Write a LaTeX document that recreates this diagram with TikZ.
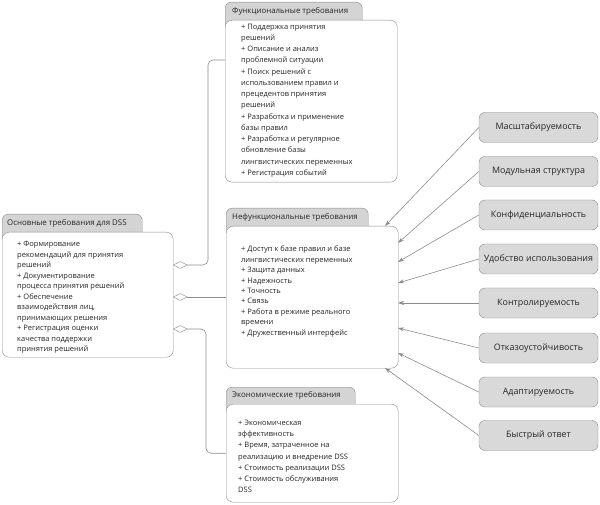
\documentclass[tikz,border=0pt]{standalone}
\usepackage{fontspec}
\setmainfont{Open Sans}
\usetikzlibrary{arrows.meta,shapes.geometric}
\definecolor{cborder}{HTML}{8C8C8C}
\definecolor{ctab}{HTML}{D4D4D4}
\definecolor{cbox}{HTML}{D9D9D9}
\definecolor{ctext}{HTML}{262626}
\begin{document}
\begin{tikzpicture}[x=1pt,y=-1pt,
  tabbox/.style={draw=cborder, fill=ctab, rounded corners=6pt, inner sep=0pt, anchor=north west, minimum height=28pt},
  bodybox/.style={draw=cborder, fill=white, rounded corners=7pt, inner sep=0pt, anchor=north west},
  tablabel/.style={anchor=west, inner sep=0pt, text=ctext, font=\fontsize{7.9}{9}\selectfont},
  bodytext/.style={anchor=west, inner sep=0pt, align=left, text=ctext},
  qbox/.style={draw=cborder, fill=cbox, rounded corners=6pt, inner sep=0pt, minimum width=119pt, minimum height=30pt, text=ctext, font=\fontsize{8.9}{10}\selectfont},
  agg/.style={diamond, draw=cborder, fill=white, inner sep=0pt, minimum width=14pt, minimum height=7pt, anchor=west},
  conn/.style={draw=cborder, line width=0.6pt},
  arr/.style={draw=cborder, line width=0.6pt, -{Stealth[length=6pt,width=4pt]}},
]
\useasboundingbox (0,0) rectangle (600,505);

% Main box
\node[tabbox, minimum width=140pt] (maintab) at (2,214) {};
\node[bodybox, minimum width=171pt, minimum height=125pt] (mainbody) at (2,232) {};
\node[tablabel] (maintabt) at (7,223) {Основные требования для DSS};
\node[bodytext, font=\fontsize{7.5}{10.5}\selectfont] (maintext) at (17,297.5) {+ Формирование\\рекомендаций для принятия\\решений\\+ Документирование\\процесса принятия решений\\+ Обеспечение\\взаимодействия лиц,\\принимающих решения\\+ Регистрация оценки\\качества поддержки\\принятия решений};

% Functional
\node[tabbox, minimum width=137pt] (functab) at (225,2) {};
\node[bodybox, minimum width=172pt, minimum height=162pt] (funcbody) at (225,20) {};
\node[tablabel] (functabt) at (232,11) {Функциональные требования};
\node[bodytext, font=\fontsize{7.5}{11.25}\selectfont] (functext) at (241,100.5) {+ Поддержка принятия\\решений\\+ Описание и анализ\\проблемной ситуации\\+ Поиск решений с\\использованием правил и\\прецедентов принятия\\решений\\+ Разработка и применение\\базы правил\\+ Разработка и регулярное\\обновление базы\\лингвистических переменных\\+ Регистрация событий};

% Non-functional
\node[tabbox, minimum width=142pt] (nftab) at (226,208) {};
\node[bodybox, minimum width=172pt, minimum height=142pt] (nfbody) at (226,226) {};
\node[tablabel] (nftabt) at (232,217) {Нефункциональные требования};
\node[bodytext, font=\fontsize{7.5}{10.4}\selectfont] (nftext) at (241,291.5) {+ Доступ к базе правил и базе\\лингвистических переменных\\+ Защита данных\\+ Надежность\\+ Точность\\+ Связь\\+ Работа в режиме реального\\времени\\+ Дружественный интерфейс};

% Economic
\node[tabbox, minimum width=129pt] (ectab) at (226,387) {};
\node[bodybox, minimum width=172pt, minimum height=98pt] (ecbody) at (226,404) {};
\node[tablabel] (ectabt) at (232,395.5) {Экономические требования};
\node[bodytext, font=\fontsize{7.5}{11.2}\selectfont] (ectext) at (238,456.5) {+ Экономическая\\эффективность\\+ Время, затраченное на\\реализацию и внедрение DSS\\+ Стоимость реализации DSS\\+ Стоимость обслуживания\\DSS};

% Aggregation diamonds and connectors
\node[agg] (d1) at (173,265) {};
\node[agg] (d2) at (173,297) {};
\node[agg] (d3) at (173,329) {};
\coordinate (f1) at (225,60);
\draw[conn, rounded corners=5pt] (d1.east) -| ([xshift=-17pt]f1) -- (f1);
\draw[conn] (d2.east) -- (d2.east -| nfbody.west);
\draw[conn, rounded corners=5pt] (d3.east) -| ([xshift=-20pt]ecbody.west) -- (ecbody.west);

% Quality boxes
\node[qbox] (q1) at (538.5,127.5) {Масштабируемость};
\node[qbox] (q2) at (538.5,171.5) {Модульная структура};
\node[qbox] (q3) at (538.5,215) {Конфиденциальность};
\node[qbox] (q4) at (538.5,259) {Удобство использования};
\node[qbox] (q5) at (538.5,303) {Контролируемость};
\node[qbox] (q6) at (538.5,348) {Отказоустойчивость};
\node[qbox] (q7) at (538.5,392) {Адаптируемость};
\node[qbox] (q8) at (538.5,435.5) {Быстрый ответ};

\coordinate (a1) at (385,226);
\coordinate (a2) at (398,243);
\coordinate (a3) at (398,262);
\coordinate (a4) at (398,283);
\coordinate (a5) at (398,303);
\coordinate (a6) at (398,328);
\coordinate (a7) at (398,353);
\coordinate (a8) at (385,368);
\foreach \i in {1,...,8} {\draw[arr] (q\i.west) -- (a\i);}
\end{tikzpicture}
\end{document}
